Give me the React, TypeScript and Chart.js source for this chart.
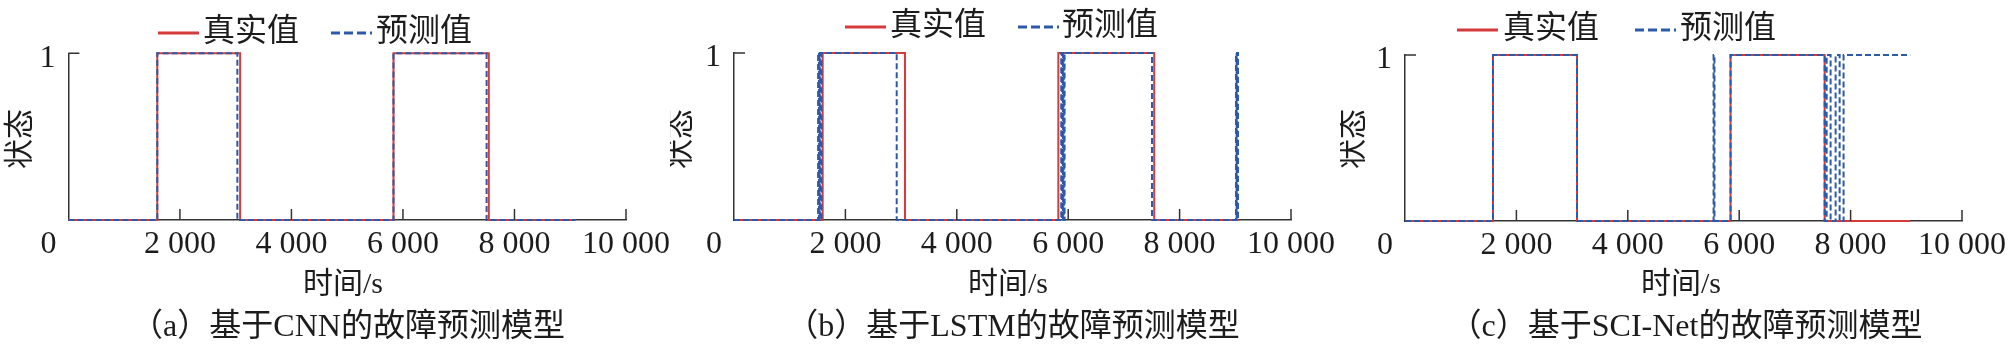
import React, { useEffect, useRef } from "react";
import { Chart, registerables } from "chart.js";

Chart.register(...registerables);

// ---------- data ----------
const xTickValues = [0, 2000, 4000, 6000, 8000, 10000];
const xTickLabels = ["0", "2 000", "4 000", "6 000", "8 000", "10 000"];
const yTickValues = [1];
const yTickLabels = ["1"];
const seriesNames = ["真实值", "预测值"];
const xTitleText = "时间/s";
const yTitleText = "状态";
const captions = [
  "（a）基于CNN的故障预测模型",
  "（b）基于LSTM的故障预测模型",
  "（c）基于SCI-Net的故障预测模型",
];

// switching times (s): state starts at 0 and toggles at each listed time
const trueA = [1594, 3080, 5830, 7540];
const predA = [1594, 3030, 5830, 7500];
const endA = 9090;

const trueB = [1592, 3070, 5823, 7544];
const predB = [1510, 1525, 1540, 1555, 1570, 2921, 5875, 5890, 5905, 5920, 5935, 7505, 9012, 9024, 9036, 9048];
const endB = 9060;

const trueC = [1580, 3088, 5845, 7534];
const predC = [1580, 3088, 5540, 5556, 5845, 7534, 7570, 7641, 7731, 7803, 7874];
const endC = 9070;

const trueSeries = [trueA, trueB, trueC];
const predSeries = [predA, predB, predC];
const endTimes = [endA, endB, endC];

// ---------- styles / layout ----------
const W = 670;
const H = 353;
const RED = "#d63b3b";
const BLUE = "#2d5aa8";
const AXIS = "#333333";
const TEXT = "#1c1c1c";
const FONT_FAMILY = '"Liberation Serif", "Noto Sans CJK SC", serif';

const layouts = [
  { left: 68.4, right: 626, top: 53.3, bottom: 220, legendY: 33, redX: 158, redTextX: 203, blueX: 331, blueTextX: 376, yTitleX: 21, xTitleX: 343, captionX: 348 },
  { left: 64, right: 621, top: 53, bottom: 220, legendY: 27, redX: 175, redTextX: 220, blueX: 348, blueTextX: 392, yTitleX: 11, xTitleX: 338, captionX: 343 },
  { left: 65, right: 622, top: 55, bottom: 221, legendY: 30, redX: 117, redTextX: 163, blueX: 295, blueTextX: 340, yTitleX: 14, xTitleX: 341, captionX: 346 },
];

function stepPoints(times: number[], end: number) {
  const pts: { x: number; y: number }[] = [{ x: 0, y: 0 }];
  let s = 0;
  for (const t of times) {
    s = 1 - s;
    pts.push({ x: t, y: s });
  }
  pts.push({ x: end, y: s });
  return pts;
}

const decoPlugin = {
  id: "panelDeco",
  afterDraw(chart: any, _args: any, opts: any) {
    const { ctx, scales } = chart;
    const xs = scales.x;
    const ys = scales.y;
    const L = opts.layout;
    const bottom = ys.getPixelForValue(0);
    const left = xs.getPixelForValue(0);
    ctx.save();
    // inward ticks
    ctx.strokeStyle = AXIS;
    ctx.lineWidth = 1.5;
    ctx.beginPath();
    for (const v of xTickValues) {
      if (v === 0) continue;
      const px = xs.getPixelForValue(v);
      ctx.moveTo(px, bottom);
      ctx.lineTo(px, bottom - 11);
    }
    for (const v of yTickValues) {
      const py = ys.getPixelForValue(v);
      ctx.moveTo(left, py);
      ctx.lineTo(left + 11, py);
    }
    ctx.stroke();

    ctx.fillStyle = TEXT;
    // origin label
    ctx.font = `32px ${FONT_FAMILY}`;
    ctx.textAlign = "center";
    ctx.textBaseline = "middle";
    ctx.fillText(xTickLabels[0], left - 20, bottom + 5 + 19.2);

    // axis titles
    ctx.font = `30px ${FONT_FAMILY}`;
    ctx.fillText(xTitleText, L.xTitleX, 285);
    ctx.save();
    ctx.translate(L.yTitleX, 139);
    ctx.rotate(-Math.PI / 2);
    ctx.fillText(yTitleText, 0, 0);
    ctx.restore();

    // caption
    ctx.font = `32px ${FONT_FAMILY}`;
    ctx.fillText(opts.caption, L.captionX, 328);

    // legend
    ctx.lineWidth = 3;
    ctx.strokeStyle = RED;
    ctx.setLineDash([]);
    ctx.beginPath();
    ctx.moveTo(L.redX, L.legendY);
    ctx.lineTo(L.redX + 41, L.legendY);
    ctx.stroke();
    ctx.strokeStyle = BLUE;
    ctx.setLineDash([9, 4]);
    ctx.beginPath();
    ctx.moveTo(L.blueX, L.legendY);
    ctx.lineTo(L.blueX + 41, L.legendY);
    ctx.stroke();
    ctx.setLineDash([]);
    ctx.textAlign = "left";
    ctx.font = `32px ${FONT_FAMILY}`;
    ctx.fillText(seriesNames[0], L.redTextX, L.legendY);
    ctx.fillText(seriesNames[1], L.blueTextX, L.legendY);
    ctx.restore();
  },
};

function Panel({ index }: { index: number }) {
  const ref = useRef<HTMLCanvasElement | null>(null);
  useEffect(() => {
    const L = layouts[index];
    const chart = new Chart(ref.current as HTMLCanvasElement, {
      type: "line",
      data: {
        datasets: [
          {
            label: seriesNames[1],
            data: stepPoints(predSeries[index], endTimes[index]),
            borderColor: BLUE,
            borderWidth: 2,
            borderDash: [6, 3],
            stepped: true,
            pointRadius: 0,
            fill: false,
            clip: false as any,
            order: 0,
          },
          {
            label: seriesNames[0],
            data: stepPoints(trueSeries[index], endTimes[index]),
            borderColor: RED,
            borderWidth: 2,
            stepped: true,
            pointRadius: 0,
            fill: false,
            clip: false as any,
            order: 1,
          },
        ],
      },
      options: {
        animation: false,
        responsive: false,
        devicePixelRatio: 1,
        layout: { padding: { left: 0, right: W - L.right, top: L.top, bottom: 0 } },
        plugins: {
          legend: { display: false },
          tooltip: { enabled: false },
          panelDeco: { layout: L, caption: captions[index] },
        } as any,
        scales: {
          x: {
            type: "linear",
            min: 0,
            max: 10000,
            afterBuildTicks: (s: any) => {
              s.ticks = xTickValues.map((v) => ({ value: v }));
            },
            afterFit: (s: any) => {
              s.height = H - L.bottom;
              s.paddingLeft = 0;
              s.paddingRight = 0;
            },
            grid: { display: false, drawTicks: false },
            border: { display: true, color: AXIS, width: 1.5 },
            ticks: {
              autoSkip: false,
              maxRotation: 0,
              padding: 5,
              color: TEXT,
              font: { family: FONT_FAMILY, size: 32 },
              callback: (v: any) => {
                const i = xTickValues.indexOf(Number(v));
                return i <= 0 ? "" : xTickLabels[i];
              },
            },
          },
          y: {
            type: "linear",
            min: 0,
            max: 1,
            afterBuildTicks: (s: any) => {
              s.ticks = yTickValues.map((v) => ({ value: v }));
            },
            afterFit: (s: any) => {
              s.width = L.left;
              s.paddingTop = 0;
              s.paddingBottom = 0;
            },
            grid: { display: false, drawTicks: false },
            border: { display: true, color: AXIS, width: 1.5 },
            ticks: {
              autoSkip: false,
              padding: 13,
              labelOffset: 5,
              color: TEXT,
              font: { family: FONT_FAMILY, size: 32 },
              callback: (v: any) => {
                const i = yTickValues.indexOf(Number(v));
                return i < 0 ? "" : yTickLabels[i];
              },
            },
          },
        },
      },
      plugins: [decoPlugin],
    } as any);
    return () => chart.destroy();
  }, [index]);
  return <canvas ref={ref} width={W} height={H} style={{ display: "block", width: W, height: H }} />;
}

export default function App() {
  return (
    <div style={{ position: "absolute", left: 0, top: 0, width: 3 * W, height: H, display: "flex", background: "#fff" }}>
      {[0, 1, 2].map((i) => (
        <Panel key={i} index={i} />
      ))}
    </div>
  );
}
